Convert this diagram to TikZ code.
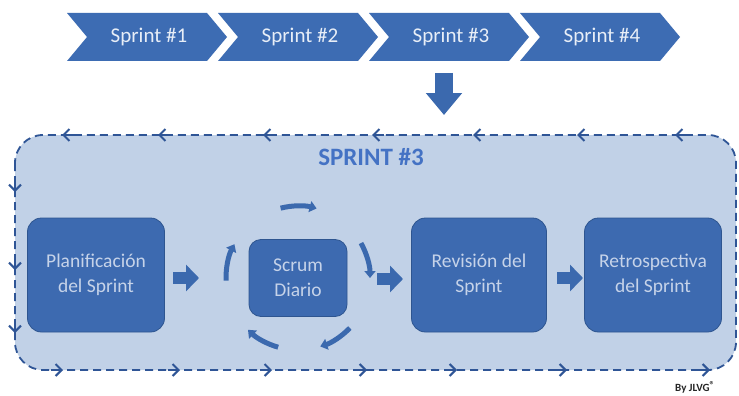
\documentclass[tikz,border=0pt]{standalone}
\usepackage{fontspec}
\setmainfont{Carlito}
\usetikzlibrary{arrows.meta}
\definecolor{chev}{HTML}{3D6CB3}
\definecolor{chevtxt}{HTML}{E8EEF7}
\definecolor{panelfill}{HTML}{C1D1E7}
\definecolor{dashcol}{HTML}{2F5596}
\definecolor{boxfill}{HTML}{3D6AB0}
\definecolor{boxline}{HTML}{2E5590}
\definecolor{boxtxt}{HTML}{C6D3E9}
\definecolor{titlecol}{HTML}{4472C4}
\definecolor{arrcol}{HTML}{3B69AE}
\tikzset{
  chevtext/.style={text=chevtxt, font=\fontsize{21}{24}\selectfont},
  stagebox/.style={draw=boxline, line width=0.8pt, fill=boxfill, rounded corners=14pt,
     text=boxtxt, align=center, font=\fontsize{19.5}{25}\selectfont,
     minimum height=114pt, inner sep=2pt},
  dashline/.style={draw=dashcol, line width=1.8pt, dash pattern=on 8pt off 5pt},
  bordertip/.style={draw=dashcol, line width=2pt, -{Straight Barb[length=6pt,width=12pt]}},
  blkarrow/.style={draw=arrcol, line width=12pt, -{Triangle[width=26pt,length=13pt]}},
  downarrow/.style={draw=arrcol, line width=18pt, -{Triangle[width=35pt,length=22pt]}},
  circarrow/.style={draw=arrcol, line width=5pt, -{Triangle[width=11pt,length=7pt]}},
}
\begin{document}
\begin{tikzpicture}[x=1pt,y=-1pt]
\useasboundingbox (0,0) rectangle (739,396);
\fill[white] (0,0) rectangle (739,396);
% chevrons
\foreach \x/\n in {67/1,218/2,369/3,520/4}{
  \fill[chev] (\x,13) -- ++(140,0) -- ++(20,24) -- ++(-20,24) -- ++(-140,0) -- ++(20,-24) -- cycle;
  \node[chevtext] (s\n) at (\x+82,37) {Sprint \#\n};
}
% down arrow
\coordinate (d1) at (444,73);
\coordinate (d2) at (444,115);
\draw[downarrow] (d1) -- (d2);
% panel
\draw[dashline, fill=panelfill, rounded corners=28pt] (15,135) rectangle (736,370);
\foreach \x in {62,158,263,372,473,577,675} \draw[bordertip] (\x+12,135) -- (\x,135);
\foreach \y in {192,270,333} \draw[bordertip] (15,\y-12) -- (15,\y);
\foreach \x in {63,180,272,367,457,567,710} \draw[bordertip] (\x-12,370) -- (\x,370);
\node[text=titlecol, font=\bfseries\fontsize{25}{28}\selectfont] (title) at (371,157) {SPRINT \#3};
% boxes
\node[stagebox, minimum width=137pt] (plan) at (96,275) {Planificación\\del Sprint};
\node[stagebox, minimum width=98pt, minimum height=77pt, rounded corners=12pt] (scrum) at (298,278) {Scrum\\Diario};
\node[stagebox, minimum width=135pt] (rev) at (479,275) {Revisión del\\Sprint};
\node[stagebox, minimum width=137pt] (retro) at (653,275) {Retrospectiva\\del Sprint};
% block arrows
\coordinate (a1s) at (173,278); \coordinate (a1e) at (199,278);
\coordinate (a2s) at (377,279); \coordinate (a2e) at (403,279);
\coordinate (a3s) at (557,278); \coordinate (a3e) at (583,278);
\draw[blkarrow] (a1s) -- (a1e);
\draw[blkarrow] (a2s) -- (a2e);
\draw[blkarrow] (a3s) -- (a3e);
% circular arrows
\coordinate (cc) at (298,278);
\foreach \a/\b in {-104/-75, -29/0, 44/72, 106/134, 178/208}{
  \draw[circarrow] ([shift={(\a:72)}]cc) arc[start angle=\a, end angle=\b, radius=72];
}
\node[text=black!85, font=\bfseries\fontsize{11}{13}\selectfont] (by) at (695,387) {By JLVG\raisebox{3pt}{\fontsize{10}{10}\selectfont ®}};
\end{tikzpicture}
\end{document}
